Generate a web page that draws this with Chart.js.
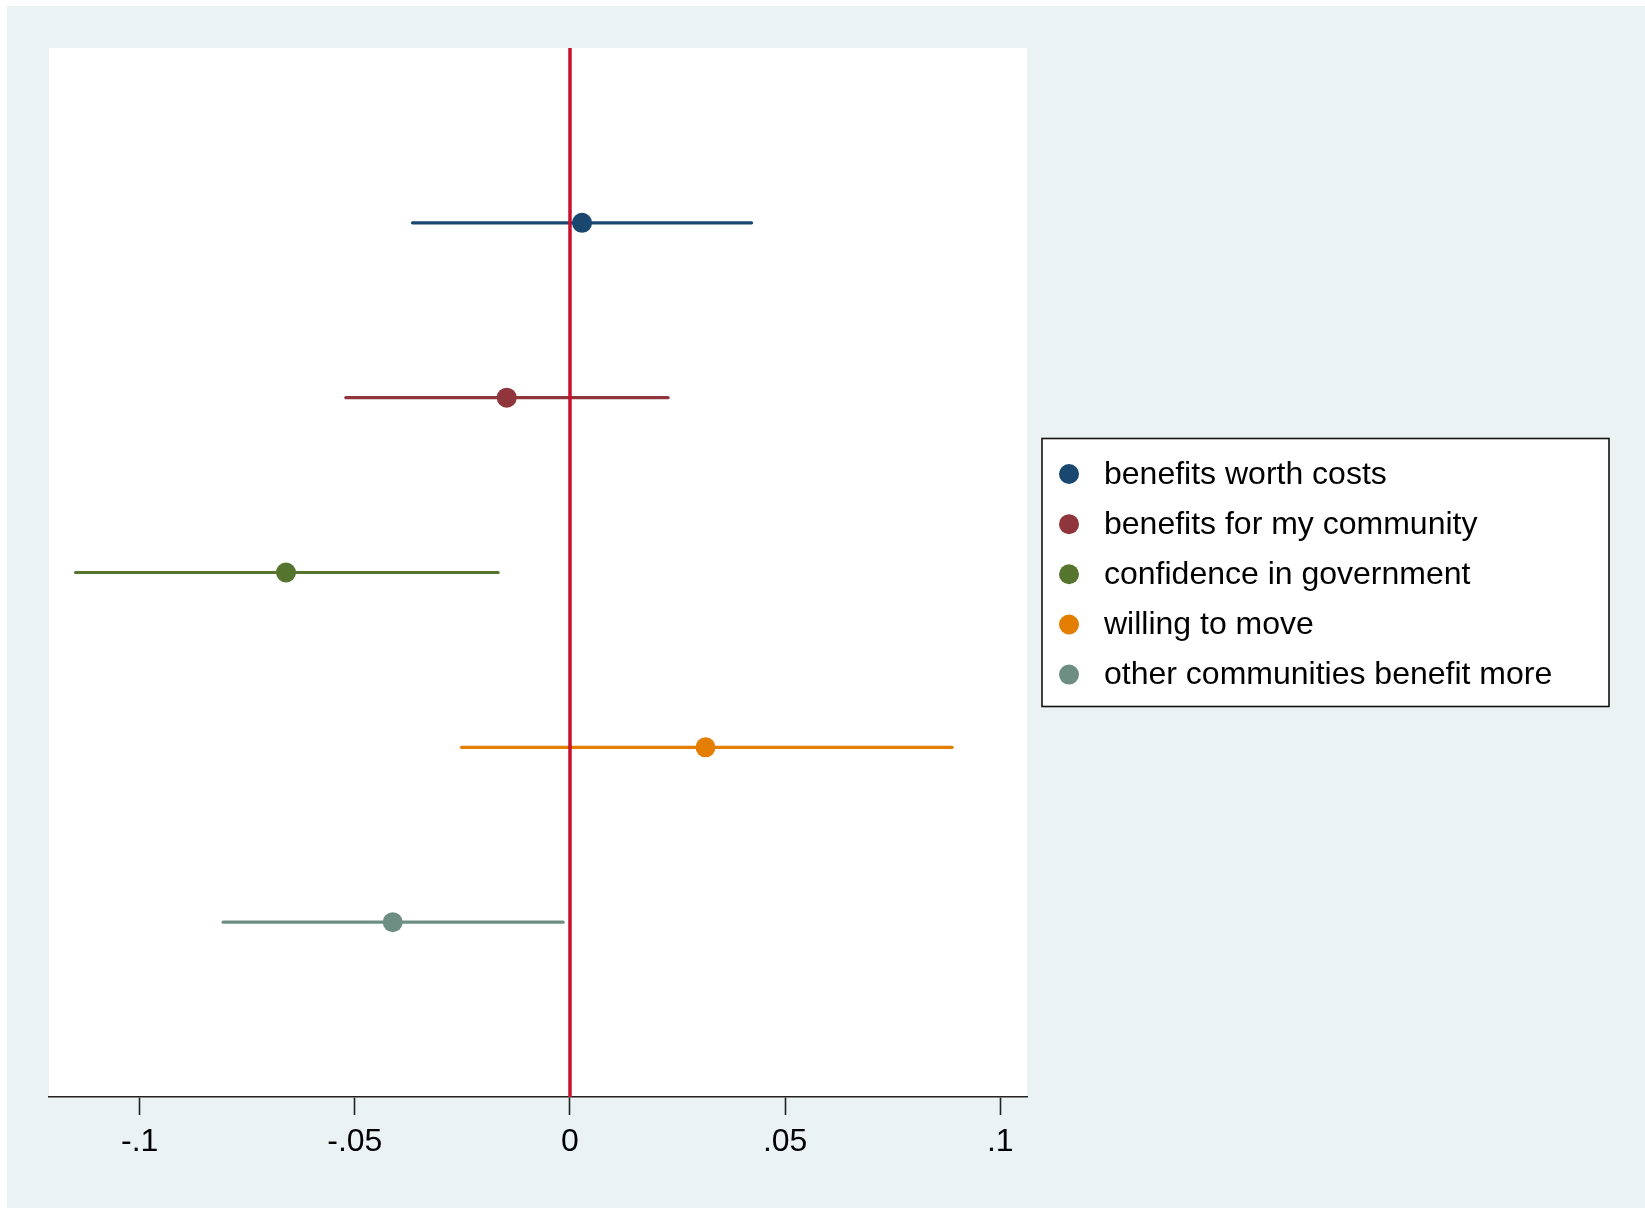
<!DOCTYPE html>
<html>
<head>
<meta charset="utf-8">
<title>Coefficient plot</title>
<script src="https://cdn.jsdelivr.net/npm/chart.js@4.4.1/dist/chart.umd.min.js"></script>
<style>
  html, body { margin: 0; padding: 0; background: #ffffff; }
  canvas { display: block; }
</style>
</head>
<body>
<canvas id="coefplot" width="1645" height="1208"></canvas>
<script>
// Outcome labels (top to bottom) and their point estimates with 95% CIs
const categories = [
  'benefits worth costs',
  'benefits for my community',
  'confidence in government',
  'willing to move',
  'other communities benefit more'
];
const estimates = [0.0028, -0.0147, -0.0660, 0.0315, -0.0412];
const ciLower   = [-0.0366, -0.0521, -0.1149, -0.0252, -0.0806];
const ciUpper   = [0.0422, 0.0228, -0.0167, 0.0888, -0.0016];
const seriesColors = ['#1a476f', '#90353b', '#55752f', '#e37e00', '#6e8e84'];

// x-axis ticks and their labels
const tickValues = [-0.1, -0.05, 0, 0.05, 0.1];
const tickLabels = ['-.1', '-.05', '0', '.05', '.1'];

const FONT = '"Liberation Sans", Arial, sans-serif';
const rows = categories.map((_, i) => i + 1);

// Confidence-interval segments
const ciSets = categories.map((name, i) => ({
  type: 'line',
  label: name + ' CI',
  data: [{ x: ciLower[i], y: rows[i] }, { x: ciUpper[i], y: rows[i] }],
  borderColor: seriesColors[i],
  borderWidth: 3.2,
  borderCapStyle: 'round',
  pointRadius: 0,
  order: 3
}));

// Point estimates
const pointSets = categories.map((name, i) => ({
  type: 'scatter',
  label: name,
  data: [{ x: estimates[i], y: rows[i] }],
  backgroundColor: seriesColors[i],
  borderWidth: 0,
  pointRadius: 10,
  pointHoverRadius: 10,
  order: 1
}));

// Reference line at zero
const zeroLine = {
  type: 'line',
  label: 'zero',
  data: [{ x: 0, y: 0 }, { x: 0, y: categories.length + 1 }],
  borderColor: '#c8102e',
  borderWidth: 3.5,
  pointRadius: 0,
  order: 2
};

// Page and plot-region backgrounds
const backgroundPlugin = {
  id: 'regions',
  beforeDraw(chart) {
    const { ctx, chartArea } = chart;
    ctx.save();
    ctx.fillStyle = '#ffffff';
    ctx.fillRect(0, 0, chart.width, chart.height);
    ctx.fillStyle = '#eaf2f3';
    ctx.fillRect(7, 6, chart.width - 7, chart.height - 6);
    ctx.fillStyle = '#ffffff';
    ctx.fillRect(chartArea.left, chartArea.top,
                 chartArea.right - chartArea.left, chartArea.bottom - chartArea.top);
    ctx.restore();
  }
};

// Boxed legend to the right of the plot
const boxLegendPlugin = {
  id: 'boxLegend',
  afterDraw(chart) {
    const { ctx, chartArea } = chart;
    const boxLeft = chartArea.right + 15;
    const boxWidth = 567;
    const boxHeight = 268;
    const midY = (chartArea.top + chartArea.bottom) / 2;
    const boxTop = midY - boxHeight / 2;
    const step = 50.15;
    const firstY = boxTop + 35.5;

    ctx.save();
    ctx.fillStyle = '#ffffff';
    ctx.fillRect(boxLeft, boxTop, boxWidth, boxHeight);
    ctx.strokeStyle = '#111111';
    ctx.lineWidth = 1.6;
    ctx.strokeRect(boxLeft, boxTop, boxWidth, boxHeight);

    ctx.font = '32px ' + FONT;
    ctx.textBaseline = 'middle';
    ctx.textAlign = 'left';
    pointSets.forEach((ds, i) => {
      const y = firstY + i * step;
      ctx.beginPath();
      ctx.arc(boxLeft + 27, y, 10, 0, Math.PI * 2);
      ctx.fillStyle = ds.backgroundColor;
      ctx.fill();
      ctx.fillStyle = '#000000';
      ctx.fillText(ds.label, boxLeft + 62, y + 1);
    });
    ctx.restore();
  }
};

new Chart(document.getElementById('coefplot'), {
  data: { datasets: [...ciSets, zeroLine, ...pointSets] },
  options: {
    responsive: false,
    animation: false,
    events: [],
    layout: { padding: { left: 49, top: 48, right: 618, bottom: 0 } },
    plugins: {
      legend: { display: false },
      tooltip: { enabled: false }
    },
    scales: {
      x: {
        type: 'linear',
        min: -0.12108,
        max: 0.10621,
        afterBuildTicks(scale) {
          scale.ticks = tickValues.map(v => ({ value: v }));
        },
        afterFit(scale) {
          scale.height = 111;
        },
        ticks: {
          autoSkip: false,
          maxRotation: 0,
          padding: 8,
          color: '#000000',
          font: { family: FONT, size: 32 },
          callback(value) {
            const idx = tickValues.findIndex(t => Math.abs(t - value) < 1e-9);
            return idx >= 0 ? tickLabels[idx] : '';
          }
        },
        grid: {
          drawOnChartArea: false,
          drawTicks: true,
          tickLength: 18,
          tickColor: '#222222',
          tickWidth: 1.6
        },
        border: { display: true, color: '#222222', width: 1.6 }
      },
      y: {
        type: 'linear',
        display: false,
        min: 0,
        max: categories.length + 1,
        reverse: true
      }
    }
  },
  plugins: [backgroundPlugin, boxLegendPlugin]
});
</script>
</body>
</html>
